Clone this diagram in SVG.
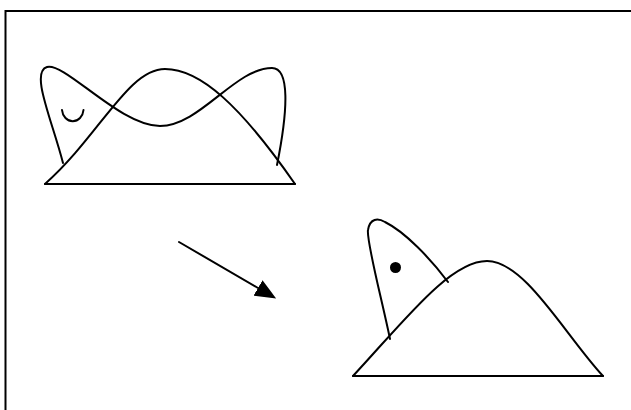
<svg xmlns="http://www.w3.org/2000/svg" width="631" height="410" viewBox="0 0 631 410">
  <style>
    .ln { fill: none; stroke: #000; stroke-width: 2; stroke-linejoin: round; stroke-linecap: round; }
  </style>
  <defs>
    <marker id="head" markerUnits="userSpaceOnUse" viewBox="0 0 21 18" markerWidth="21" markerHeight="18" refX="0" refY="9" orient="auto">
      <path d="M0,0 L21,9 L0,18 Z" fill="#000"/>
    </marker>
  </defs>
  <rect x="0" y="0" width="631" height="410" fill="#fff"/>
  <rect x="5.5" y="11" width="640" height="420" fill="none" stroke="#000" stroke-width="2"/>

  <g id="figure-before">
    <path class="ln" d="M45,184 L295,184"/>
    <path class="ln" d="M45,184 C100,135 128,69 165,69 C200,69 240,105 295,184"/>
    <path class="ln" d="M63,163 C52,120 30,72 47,67 C65,62 120,126 160,126 C200,126 235,68 272,68 C290,68 288,110 277,165"/>
    <path class="ln" d="M62,110 A10.8,12.5 0 0 0 83.5,110" stroke-width="1.6"/>
  </g>

  <g id="connectors">
    <line class="ln" x1="179" y1="242" x2="258" y2="288" marker-end="url(#head)"/>
  </g>

  <g id="figure-after">
    <path class="ln" d="M353,376 L603,376"/>
    <path class="ln" d="M353,376 C405,320 450,261 487,261 C525,261 565,335 603,376"/>
    <path class="ln" d="M390,339 C382,300 366,240 368,230 C370,218 378,218 385,222 C405,232 430,258 448,282"/>
    <circle cx="395.5" cy="267.5" r="5.5" fill="#000"/>
  </g>
</svg>
